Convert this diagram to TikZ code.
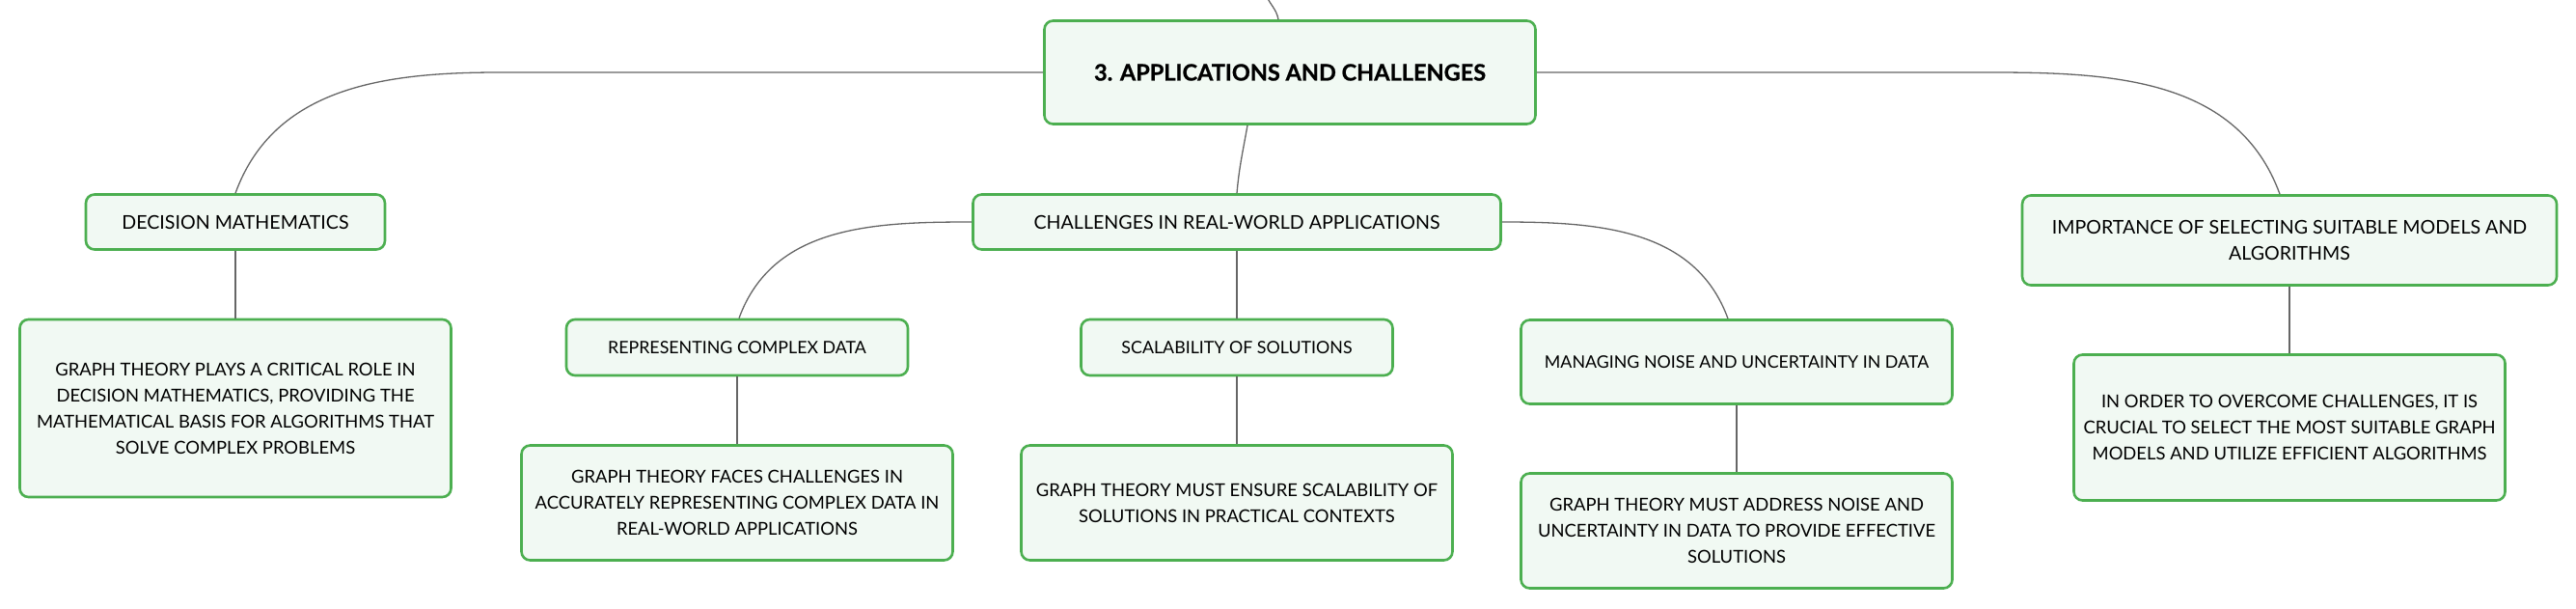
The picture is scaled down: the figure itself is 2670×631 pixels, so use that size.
\documentclass[tikz,border=0pt]{standalone}
\usepackage{fontspec}
\setmainfont{Lato}
\newfontfamily\titlefont{Lato}[BoldFeatures={FakeBold=0.8}]
\usetikzlibrary{positioning, calc}
\definecolor{boxgreen}{HTML}{4CAF50}
\definecolor{boxfill}{HTML}{F1F9F3}
\definecolor{linkgray}{HTML}{666666}

\begin{document}
\begin{tikzpicture}[x=1pt, y=1pt, on grid,
	topic/.style={draw=boxgreen, fill=boxfill, line width=2.6pt, rounded corners=9pt, align=center, inner sep=0pt, font=\fontsize{19.6}{27}\selectfont},
	subtopic/.style={topic, font=\fontsize{17.8}{27}\selectfont},
	leaf/.style={topic, minimum width=447pt, minimum height=119pt, font=\fontsize{18.4}{27}\selectfont},
	link/.style={draw=linkgray, line width=1.3pt} ]
	\useasboundingbox (0,0) rectangle (2670,-631);

	\node[topic, minimum width=509pt, minimum height=107pt, font=\fontsize{23.5}{30}\titlefont\bfseries] (main) at (1337,-75) {3. APPLICATIONS AND CHALLENGES};
	\node[topic, minimum width=547pt, minimum height=57pt]		(chal) [below left=155pt and 55pt of main]		{CHALLENGES IN REAL-WORLD APPLICATIONS};
	\node[topic, minimum width=310pt, minimum height=57pt]		(dec)  [left=1038pt of chal]						{DECISION MATHEMATICS};
	\node[topic, minimum width=554pt, minimum height=93pt]		(imp)  [below right=19pt and 1091pt of chal]	{IMPORTANCE OF SELECTING SUITABLE MODELS AND\\ALGORITHMS};
	\node[subtopic, minimum width=354pt, minimum height=58pt]	(rep)  [below left=130pt and 518pt of chal]		{REPRESENTING COMPLEX DATA};
	\node[subtopic, minimum width=323pt, minimum height=58pt]	(scal) [below=130pt of chal]						{SCALABILITY OF SOLUTIONS};
	\node[subtopic, minimum width=447pt, minimum height=87pt]	(man)  [below right=145pt and 518pt of chal]	{MANAGING NOISE AND UNCERTAINTY IN DATA};

	%Folhas:
	\node[leaf, minimum height=184pt]	(decg)  [below=193pt of dec]	{GRAPH THEORY PLAYS A CRITICAL ROLE IN\\DECISION MATHEMATICS, PROVIDING THE\\MATHEMATICAL BASIS FOR ALGORITHMS THAT\\SOLVE COMPLEX PROBLEMS};
	\node[leaf]							(repg)  [below=161pt of rep]	{GRAPH THEORY FACES CHALLENGES IN\\ACCURATELY REPRESENTING COMPLEX DATA IN\\REAL-WORLD APPLICATIONS};
	\node[leaf]							(scalg) [below=161pt of scal]	{GRAPH THEORY MUST ENSURE SCALABILITY OF\\SOLUTIONS IN PRACTICAL CONTEXTS};
	\node[leaf]							(mang)  [below=175pt of man]	{GRAPH THEORY MUST ADDRESS NOISE AND\\UNCERTAINTY IN DATA TO PROVIDE EFFECTIVE\\SOLUTIONS};
	\node[leaf, minimum height=151pt]	(impg)  [below=194pt of imp]	{IN ORDER TO OVERCOME CHALLENGES, IT IS\\CRUCIAL TO SELECT THE MOST SUITABLE GRAPH\\MODELS AND UTILIZE EFFICIENT ALGORITHMS};

	%Ligacoes:
	\coordinate (up) at (1312,6);
	\draw[link] ($(main.north)+(-12,0)$) to[out=100, in=-70] (up);
	\draw[link] (main.west) -- ($(dec.north |- main.west)+(274,0)$) to[out=180, in=70] (dec.north);
	\draw[link] (main.east) -- ($(imp.north |- main.east)+(-310,0)$) to[out=0, in=110] ($(imp.north)+(-10,0)$);
	\draw[link] ($(main.south)+(-44,0)$) to[out=260, in=85] (chal.north);
	\draw[link] (chal.west) to[out=180, in=70] ($(rep.north)+(2,0)$);
	\draw[link] (chal.east) to[out=0, in=110] ($(man.north)+(-9,0)$);
	\path[link]
	(dec)  edge (decg)
	(rep)  edge (repg)
	(chal) edge (scal)
	(scal) edge (scalg)
	(man)  edge (mang)
	(imp)  edge (impg);
\end{tikzpicture}
\end{document}
